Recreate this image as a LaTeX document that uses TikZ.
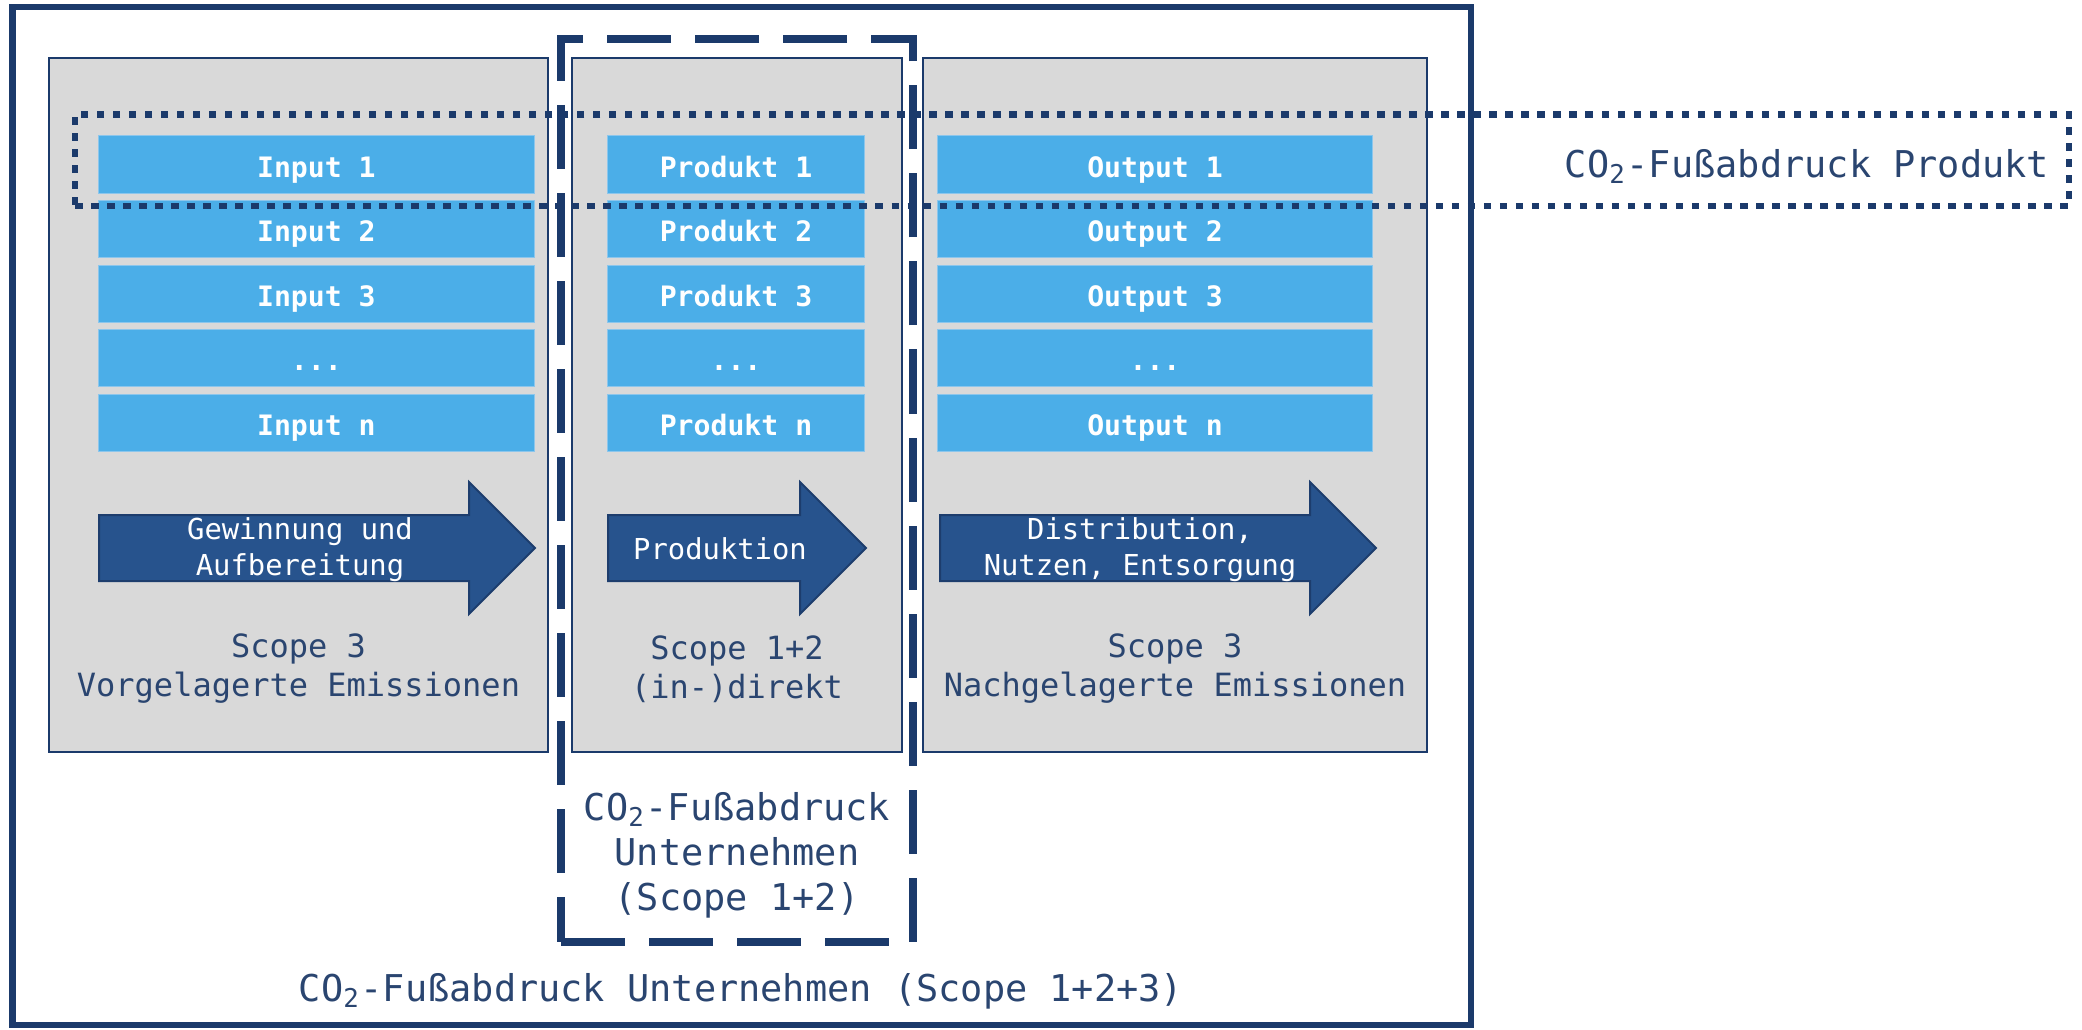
\documentclass[tikz,border=0pt]{standalone}
\usepackage{fontspec}
\setmonofont{DejaVu Sans Mono}
\usetikzlibrary{fit}
\definecolor{frameblue}{HTML}{1B3A6B}
\definecolor{textblue}{HTML}{2A4570}
\definecolor{stagegray}{HTML}{D9D9D9}
\definecolor{itemblue}{HTML}{4BAEE8}
\definecolor{itemedge}{HTML}{8CC6EC}
\definecolor{flowblue}{HTML}{27538D}
\definecolor{flowedge}{HTML}{1D3D6D}
\newcommand{\moreitems}{...}

\begin{document}
\begin{tikzpicture}[x=0.01cm, y=-0.01cm, inner sep=0pt,
  stage/.style={draw=frameblue, line width=0.02cm, fill=stagegray},
  item/.style={fill=itemblue, draw=itemedge, line width=0.01cm, minimum height=0.57cm, text height=0.73em, text depth=0pt, text=white, font=\ttfamily\bfseries\fontsize{8}{9.6}\selectfont},
  flow/.style={draw=flowedge, line width=0.02cm, fill=flowblue},
  flowtext/.style={text=white, align=center, font=\ttfamily\fontsize{8.2}{10.2}\selectfont},
  scopetext/.style={text=textblue, align=center, font=\ttfamily\fontsize{9.1}{11.1}\selectfont},
  bigtext/.style={text=textblue, align=center, font=\ttfamily\fontsize{10.5}{12.8}\selectfont}]
\useasboundingbox (0,0) rectangle (2082,1029);

% outer frame, scope 1+2+3
\node (frame) [draw=frameblue, line width=0.065cm, fit={(12.7,7) (1471,1025)}] {};

% the three stages
\node (up) [stage, fit={(49,57.5) (548,752)}] {};
\node (mid) [stage, fit={(572,58) (901.5,752)}] {};
\node (down) [stage, fit={(923,58) (1427,752)}] {};

\foreach \i/\a/\b/\c in {1/Input 1/Produkt 1/Output 1, 2/Input 2/Produkt 2/Output 2, 3/Input 3/Produkt 3/Output 3, 4/\moreitems/\moreitems/\moreitems, 5/Input n/Produkt n/Output n} {
  \pgfmathsetmacro{\yy}{100+64.5*\i}
  \node (in\i) at (316.35,\yy) [item, minimum width=4.353cm] {\a};
  \node (prod\i) at (736,\yy) [item, minimum width=2.56cm] {\b};
  \node (out\i) at (1155,\yy) [item, minimum width=4.34cm] {\c};
}

% process arrows
\draw[flow] (99,515) -- (469,515) -- (469,482) -- (535,548) -- (469,614) -- (469,581) -- (99,581) -- cycle;
\draw[flow] (608,515) -- (800,515) -- (800,482) -- (866,548) -- (800,614) -- (800,581) -- (608,581) -- cycle;
\draw[flow] (940,515) -- (1310,515) -- (1310,482) -- (1376,548) -- (1310,614) -- (1310,581) -- (940,581) -- cycle;
\node (upflow) at (300,550) [flowtext] {Gewinnung und\\Aufbereitung};
\node (midflow) at (720,549) [flowtext] {Produktion};
\node (downflow) at (1140,550) [flowtext] {Distribution,\\Nutzen, Entsorgung};

\node (upscope) at (298.5,669) [scopetext] {Scope 3\\Vorgelagerte Emissionen};
\node (midscope) at (737,669) [scopetext] {Scope 1+2\\(in-)direkt};
\node (downscope) at (1175,669) [scopetext] {Scope 3\\Nachgelagerte Emissionen};

% scope 1+2 of the company
\node (firm) [draw=frameblue, line width=0.08cm, dash pattern=on 0.64cm off 0.24cm, fit={(561,39) (913,942)}] {};
\node (firmlabel) at (737,855) [bigtext] {CO\textsubscript{2}-Fußabdruck\\Unternehmen\\(Scope 1+2)};

% product footprint
\node (product) [draw=frameblue, line width=0.065cm, dash pattern=on 0.075cm off 0.085cm, fit={(75,114.5) (2069,206)}] {};
\node (productlabel) at (1807,166) [bigtext] {CO\textsubscript{2}-Fußabdruck Produkt};

\node (framelabel) at (741,991) [bigtext] {CO\textsubscript{2}-Fußabdruck Unternehmen (Scope 1+2+3)};
\end{tikzpicture}
\end{document}
